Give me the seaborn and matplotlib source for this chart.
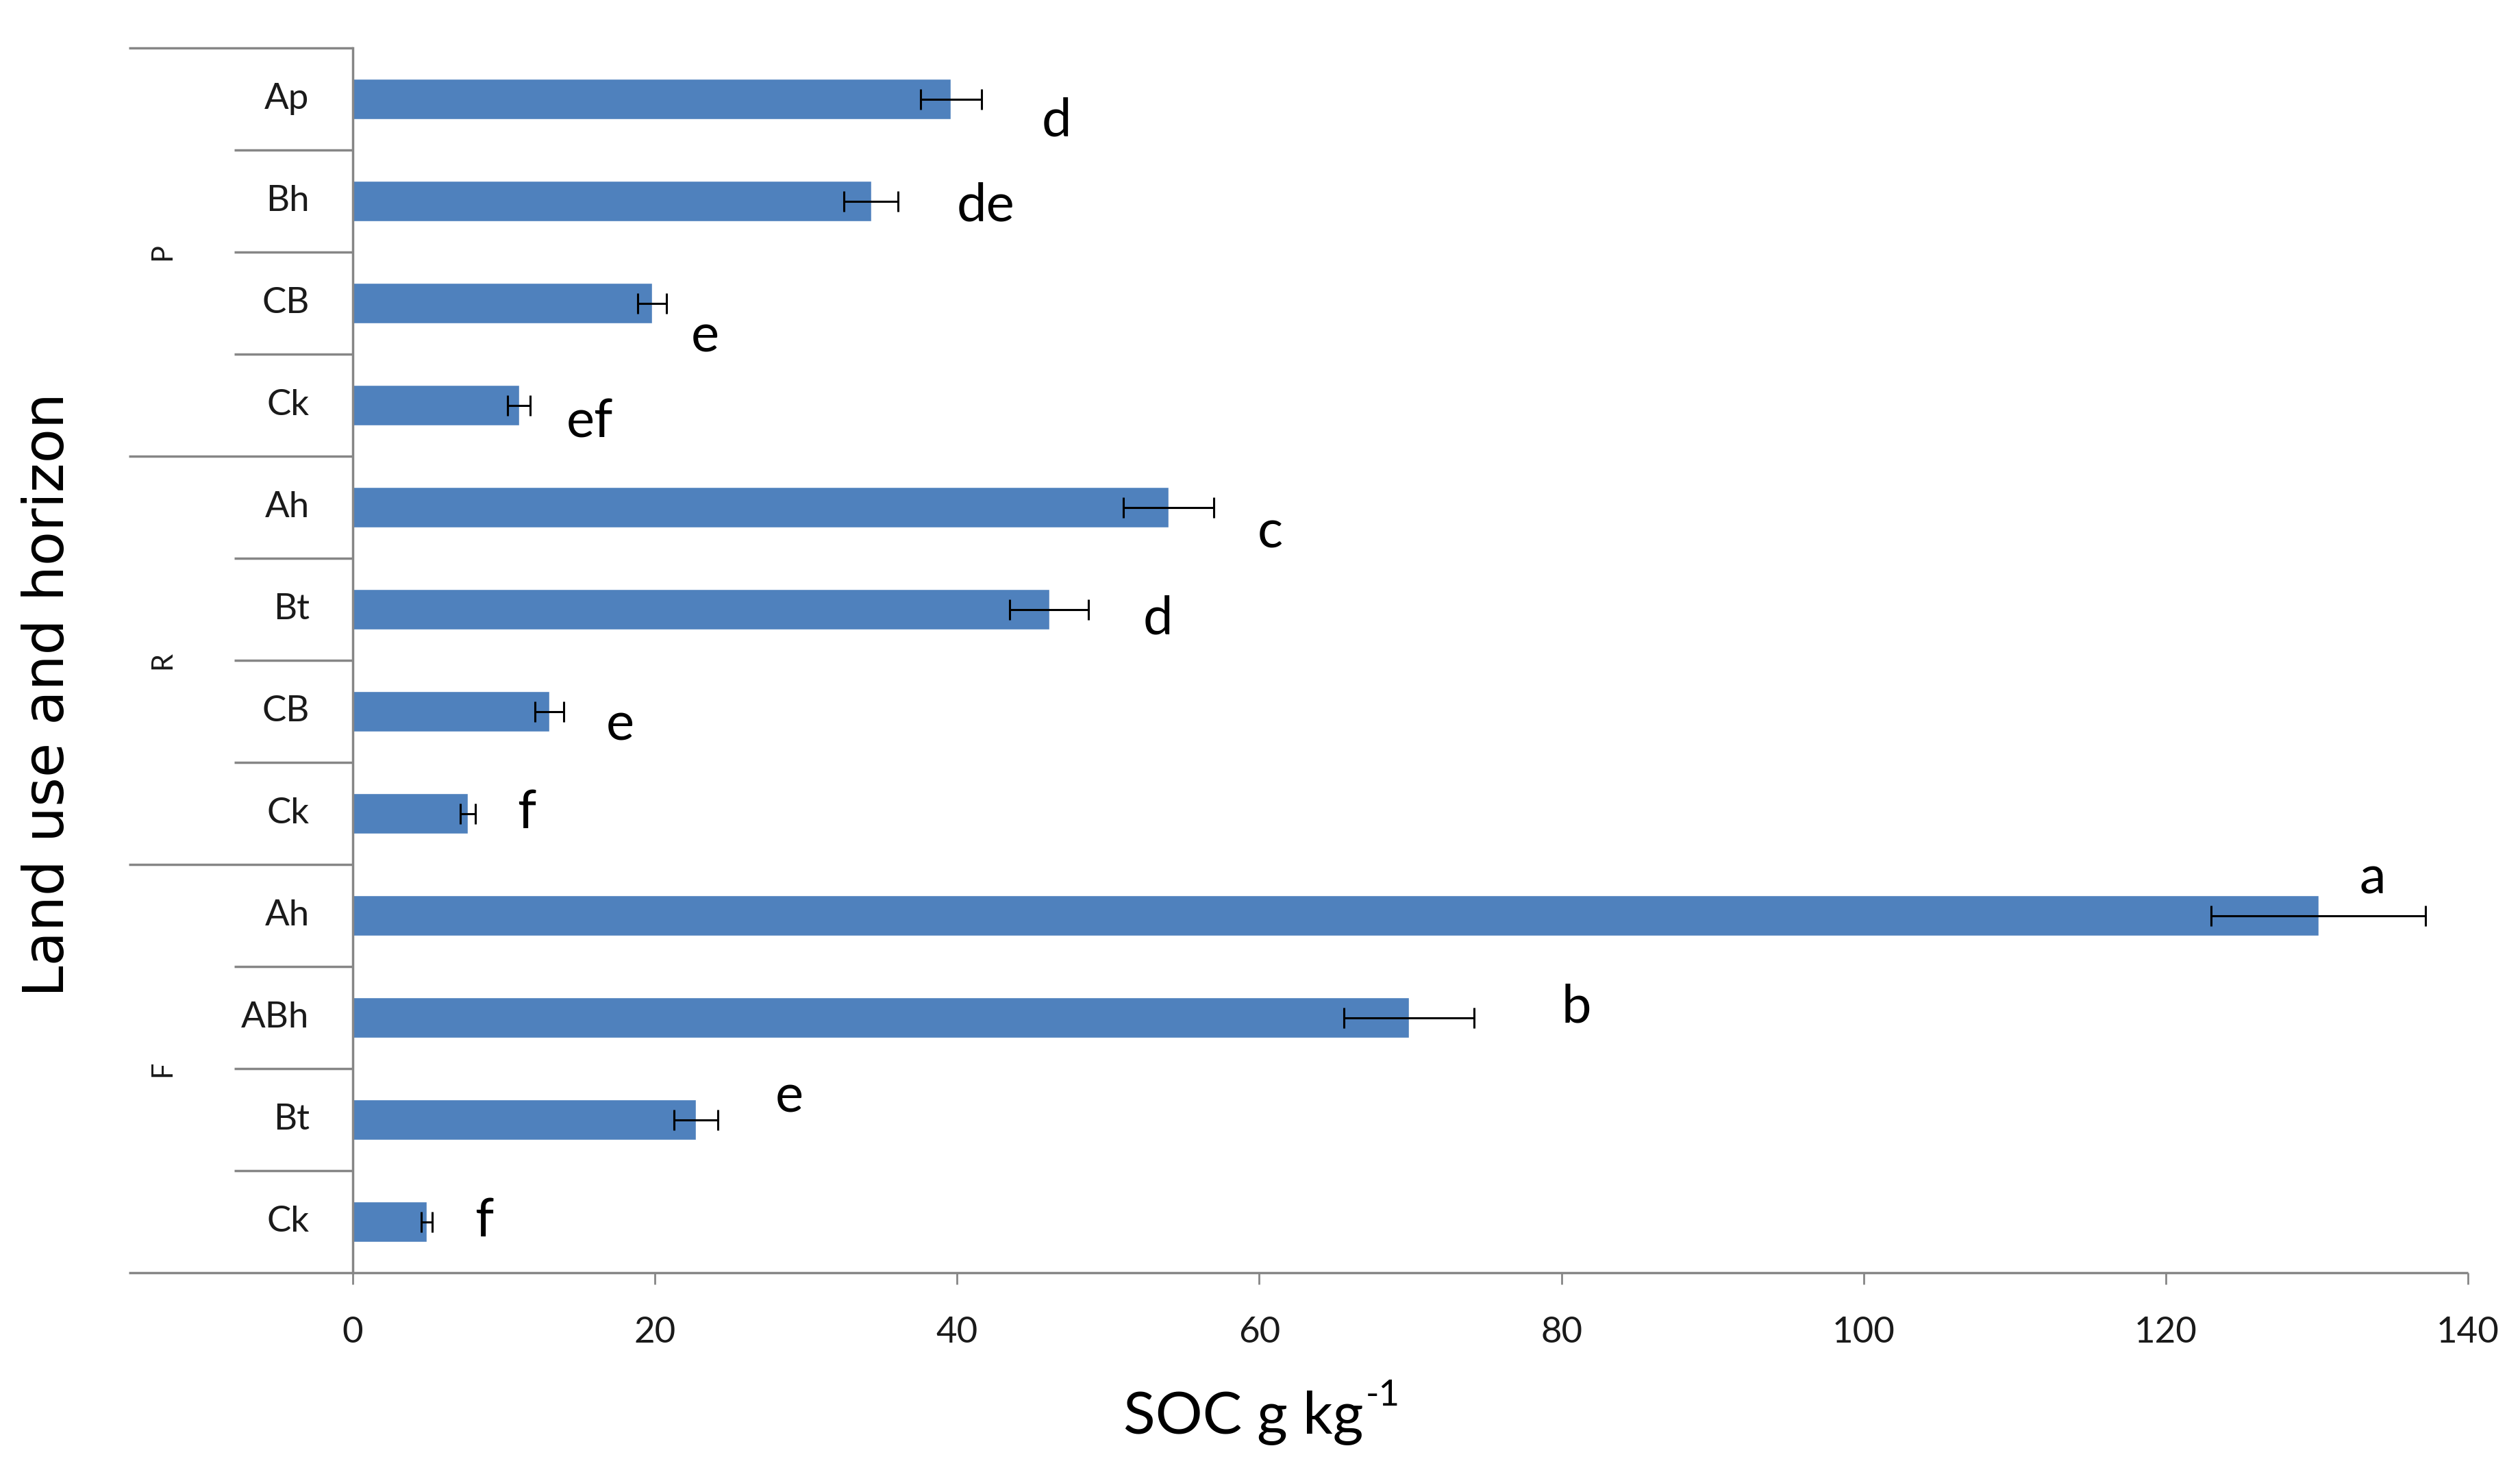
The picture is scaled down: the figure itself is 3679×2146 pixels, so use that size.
import matplotlib
matplotlib.use("Agg")
import matplotlib.pyplot as plt
import matplotlib.transforms as mtransforms
import seaborn as sns
import pandas as pd
import numpy as np

# ---- data ----
land_use = ["P", "P", "P", "P", "R", "R", "R", "R", "F", "F", "F", "F"]
horizons = ["Ap", "Bh", "CB", "Ck", "Ah", "Bt", "CB", "Ck", "Ah", "ABh", "Bt", "Ck"]
soc = [39.6, 34.3, 19.8, 11.0, 54.0, 46.1, 13.0, 7.6, 130.1, 69.9, 22.7, 4.9]
soc_err = [2.0, 1.8, 0.95, 0.75, 3.0, 2.6, 0.95, 0.5, 7.1, 4.3, 1.45, 0.35]
letters = ["d", "de", "e", "ef", "c", "d", "e", "f", "a", "b", "e", "f"]
letter_x = [46.6, 41.9, 23.3, 15.7, 60.7, 53.3, 17.7, 11.5, 133.7, 81.0, 28.9, 8.7]
letter_dy = [0.22, 0.05, 0.33, 0.17, 0.25, 0.10, 0.14, 0.0, -0.36, -0.10, -0.22, 0.0]
groups = ["P", "R", "F"]
xticks = [0, 20, 40, 60, 80, 100, 120, 140]

df = pd.DataFrame({
    "key": [f"{g}-{h}-{i}" for i, (g, h) in enumerate(zip(land_use, horizons))],
    "soc": soc,
})

sns.set_theme(style="white")
plt.rcParams["font.family"] = ["Lato", "DejaVu Sans"]

W, H, DPI = 3679, 2146, 100
fig = plt.figure(figsize=(W / DPI, H / DPI), dpi=DPI)
ax = fig.add_axes([515 / W, 1 - 1858 / H, (3603 - 515) / W, (1858 - 70) / H])

bar_color = "#4F81BD"
axis_gray = "#868686"

sns.barplot(data=df, y="key", x="soc", orient="h", color=bar_color,
            width=0.4, errorbar=None, saturation=1, ax=ax)

ypos = np.arange(len(soc))
ax.errorbar(soc, ypos, xerr=soc_err, fmt="none", ecolor="black",
            elinewidth=2.2, capsize=11, capthick=2.2, zorder=5)

for xv, yv, dy, t in zip(letter_x, ypos, letter_dy, letters):
    ax.text(xv, yv + dy, t, ha="center", va="center", fontsize=56, color="black")

ax.set_xlim(0, 140)
ax.set_ylim(len(soc) - 0.5, -0.5)
ax.set_xticks(xticks)
ax.set_xticklabels([str(v) for v in xticks], fontsize=38, color="#1a1a1a")
ax.tick_params(axis="x", which="both", length=12, width=2, color=axis_gray,
               direction="out", pad=34, bottom=True)
ax.set_yticks([])
ax.set_ylabel("")
ax.set_xlabel("")

for s in ["top", "right"]:
    ax.spines[s].set_visible(False)
ax.spines["left"].set_color(axis_gray)
ax.spines["left"].set_linewidth(2.5)
ax.spines["bottom"].set_visible(False)

trans = mtransforms.blended_transform_factory(ax.transAxes, ax.transData)
x_outer = -0.106
x_inner = -0.056
# bottom axis line extended to the left
ax.plot([x_outer, 1.0], [len(soc) - 0.5, len(soc) - 0.5], transform=trans,
        color=axis_gray, lw=2.5, clip_on=False, solid_capstyle="butt")
for i in range(len(soc)):
    yb = i - 0.5
    x0 = x_outer if i % 4 == 0 else x_inner
    ax.plot([x0, 0], [yb, yb], transform=trans, color=axis_gray, lw=2.5,
            clip_on=False, solid_capstyle="butt")

# horizon labels
for yv, h in zip(ypos, horizons):
    ax.text(-0.0205, yv, h, transform=trans, ha="right", va="center",
            fontsize=38, color="#1a1a1a")
# land use labels
for gi, g in enumerate(groups):
    yc = gi * 4 + 1.5
    ax.text(-0.090, yc, g, transform=trans, ha="center", va="center",
            rotation=90, fontsize=30, color="#1a1a1a")

# y-axis title
fig.text(70 / W, 1 - 1014 / H, "Land use and horizon", rotation=90,
         ha="center", va="center", fontsize=59, family=["DejaVu Sans"],
         color="black")

# x-axis title with superscript
base_y = 1 - 2092 / H
main = fig.text(1640 / W, base_y, "SOC g kg", ha="left", va="baseline",
                fontsize=62, color="black")
fig.canvas.draw()
bb = main.get_window_extent(renderer=fig.canvas.get_renderer())
fig.text(bb.x1 / W + 0.0008, base_y + 0.0185, "-1", ha="left", va="baseline",
         fontsize=38, color="black")
fig.savefig("out.png", dpi=DPI, facecolor="white")
